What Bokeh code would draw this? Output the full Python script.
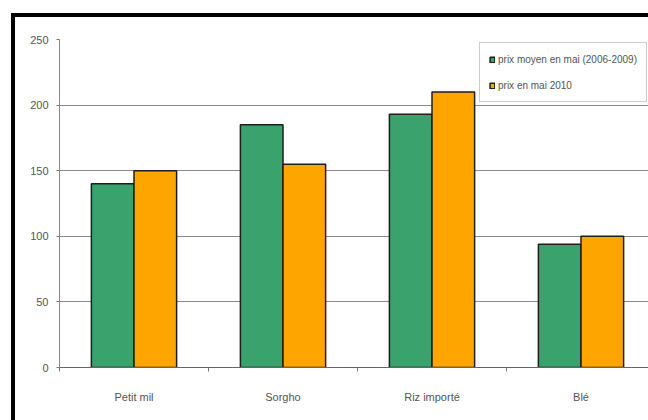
from bokeh.plotting import figure
from bokeh.models import FixedTicker, Range1d, InlineStyleSheet
from bokeh.embed import file_html
from bokeh.resources import INLINE

categories = ["Petit mil", "Sorgho", "Riz importé", "Blé"]
prix_moyen_2006_2009 = [140, 185, 193, 94]
prix_mai_2010 = [150, 155, 210, 100]
y_ticks = [0, 50, 100, 150, 200, 250]

series_labels = ["prix moyen en mai (2006-2009)", "prix en mai 2010"]
GREEN = "#3aa26c"
ORANGE = "#ffa500"
FONT = "Liberation Sans"

centers = [i + 0.5 for i in range(len(categories))]
bar_w = 0.286
off = 0.143

# frame width 589 px shows a little under four full category slots
p = figure(width=648, height=420, output_backend="svg", toolbar_location=None,
           x_range=Range1d(0, 589 / 149), y_range=Range1d(0, 250),
           min_border_left=59, min_border_top=39, min_border_bottom=53,
           min_border_right=0)
p.outline_line_color = None
p.background_fill_color = "white"
p.border_fill_color = "white"

# thick black frame on the top and left edges of the chart block
frame_css = InlineStyleSheet(css="""
:host { position: relative; overflow: hidden; }
:host::after {
  content: "";
  position: absolute;
  left: 11px;
  top: 13px;
  width: 633px;
  height: 403px;
  border-left: 4px solid #000;
  border-top: 4px solid #000;
  pointer-events: none;
  z-index: 10;
}
""")
p.stylesheets = [frame_css]

p.vbar(x=[c - off for c in centers], top=prix_moyen_2006_2009, width=bar_w,
       fill_color=GREEN, line_color="#1e1e1e", line_width=1.5,
       legend_label=series_labels[0])
p.vbar(x=[c + off for c in centers], top=prix_mai_2010, width=bar_w,
       fill_color=ORANGE, line_color="#1e1e1e", line_width=1.5,
       legend_label=series_labels[1])

# x axis: labels at category centres, small ticks at category boundaries
xa = p.xaxis[0]
xa.ticker = FixedTicker(ticks=centers, minor_ticks=list(range(len(categories) + 1)))
xa.major_label_overrides = {c: name for c, name in zip(centers, categories)}
xa.major_tick_out = 0
xa.major_tick_in = 0
xa.minor_tick_out = 4
xa.minor_tick_in = 0
xa.minor_tick_line_color = "#777777"
xa.axis_line_color = "#666666"
xa.major_label_standoff = 19
xa.major_label_text_font = FONT
xa.major_label_text_font_size = "11px"
xa.major_label_text_color = "#555555"

ya = p.yaxis[0]
ya.ticker = FixedTicker(ticks=y_ticks)
ya.major_tick_out = 3
ya.major_tick_in = 0
ya.minor_tick_out = 0
ya.minor_tick_in = 0
ya.major_tick_line_color = "#777777"
ya.axis_line_color = "#888888"
ya.major_label_standoff = 8
ya.major_label_text_font = FONT
ya.major_label_text_font_size = "11px"
ya.major_label_text_color = "#555555"

p.xgrid.grid_line_color = None
p.ygrid.grid_line_color = "#8a8a8a"
p.ygrid.grid_line_width = 1

lg = p.legend[0]
lg.location = (420, 265)
lg.orientation = "vertical"
lg.glyph_width = 6
lg.glyph_height = 7
lg.label_height = 14
lg.label_standoff = 3
lg.spacing = 12
lg.padding = 9
lg.margin = 0
lg.label_text_font = FONT
lg.label_text_font_size = "10px"
lg.label_text_color = "#555555"
lg.border_line_color = "#9a9a9a"
lg.border_line_width = 1
lg.background_fill_color = "white"
lg.background_fill_alpha = 1.0

open("out.html", "w").write(file_html(p, INLINE))
